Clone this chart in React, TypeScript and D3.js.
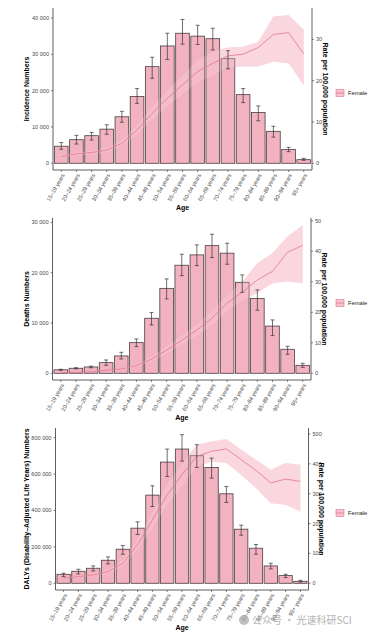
import React from "react";
import * as d3 from "d3";

// age groups (x axis)
const ageGroups = [
  "15–19 years", "20–24 years", "25–29 years", "30–34 years", "35–39 years",
  "40–44 years", "45–49 years", "50–54 years", "55–59 years", "60–64 years",
  "65–69 years", "70–74 years", "75–79 years", "80–84 years", "85–89 years",
  "90–94 years", "95+ years",
];

// incidence
const incidenceNumbers = [4700, 6500, 7600, 9400, 12800, 18400, 26600, 32300, 35800, 35000, 34300, 28800, 18900, 14000, 8800, 3800, 1000];
const incidenceLow = [3850, 5300, 6400, 8000, 11300, 16500, 23400, 28600, 32800, 32700, 31200, 26000, 16700, 11700, 7200, 3200, 830];
const incidenceHigh = [5700, 7700, 8500, 10600, 14300, 20600, 29200, 35800, 39600, 38000, 37200, 31000, 20600, 15800, 10200, 4400, 1380];
const incidenceRate = [1.6, 2.3, 2.6, 3.2, 4.8, 8.1, 12.1, 15.7, 19.0, 22.2, 24.2, 26.0, 26.4, 28.0, 31.2, 31.6, 26.5];
const incidenceRateLow = [1.3, 1.9, 2.2, 2.7, 4.1, 7.0, 10.6, 13.8, 16.7, 19.5, 21.3, 23.2, 23.4, 23.4, 24.6, 24.2, 18.9];
const incidenceRateHigh = [1.9, 2.7, 3.0, 3.7, 5.5, 9.2, 13.6, 17.6, 21.3, 24.9, 27.1, 28.0, 28.2, 29.4, 35.5, 35.9, 32.3];

// deaths
const deathNumbers = [700, 1000, 1260, 2120, 3450, 6100, 10950, 16900, 21500, 23560, 25400, 23900, 18100, 14900, 9400, 4780, 1590];
const deathLow = [600, 880, 1100, 1590, 2850, 5300, 9620, 14800, 19440, 21430, 23030, 21700, 16120, 12540, 7500, 3780, 1190];
const deathHigh = [800, 1120, 1420, 2650, 4180, 6830, 12080, 18780, 23690, 25550, 27670, 25880, 19580, 16590, 10620, 5380, 1990];
const deathRate = [0.2, 0.3, 0.5, 1.0, 1.4, 2.5, 4.6, 7.6, 10.8, 14.2, 18.1, 23.0, 26.6, 30.6, 33.4, 39.7, 41.9];
const deathRateLow = [0.15, 0.25, 0.4, 0.85, 1.2, 2.1, 3.9, 6.5, 9.4, 12.3, 15.6, 20.4, 23.8, 26.3, 29.5, 30.1, 29.5];
const deathRateHigh = [0.25, 0.35, 0.6, 1.15, 1.6, 2.9, 5.3, 8.8, 12.4, 16.1, 20.6, 25.4, 30.0, 36.1, 39.4, 44.9, 48.5];

// DALYs
const dalyNumbers = [49500, 66000, 82600, 126600, 187200, 302800, 484400, 666000, 737600, 700900, 636700, 491700, 297200, 192700, 95400, 42200, 11000];
const dalyLow = [36700, 51400, 67900, 106400, 159600, 267900, 422000, 587200, 671600, 636700, 578000, 444000, 264200, 159600, 78900, 31200, 7300];
const dalyHigh = [55000, 77000, 95400, 145000, 207300, 337600, 535800, 737600, 816500, 761500, 688000, 532000, 319300, 212800, 110100, 49500, 16500];
const dalyRate = [16.8, 22.4, 28, 39, 67, 129, 212, 296, 364, 425, 442, 450, 414, 378, 336, 349, 341];
const dalyRateLow = [14, 19, 24, 33, 57, 112, 186, 262, 325, 390, 408, 403, 363, 319, 268, 263, 240];
const dalyRateHigh = [19.5, 26, 32, 45, 77, 146, 238, 330, 400, 464, 475, 483, 447, 414, 380, 403, 397];

const incidenceTicks = [0, 10000, 20000, 30000, 40000];
const incidenceRateTicks = [0, 10, 20, 30];
const deathTicks = [0, 10000, 20000, 30000];
const deathRateTicks = [0, 10, 20, 30, 40, 50];
const dalyTicks = [0, 200000, 400000, 600000, 800000];
const dalyRateTicks = [0, 100, 200, 300, 400, 500];

const fmt = d3
  .formatLocale({ decimal: ".", thousands: " ", grouping: [3], currency: ["", ""] })
  .format(",");

const FONT = "'Liberation Sans', Arial, sans-serif";
const BAR_FILL = "#F3B2BF";
const LINE = "#E2768E";
const RIBBON = "#F8C4CF";
const AXIS = "#4d4d4d";
const TICK_TEXT = "#4d4d4d";

function Panel(props) {
  const {
    top, bottom, left, right, title,
    values, low, high, rate, rateLow, rateHigh,
    leftDomain, rightDomain, leftTicks, rightTicks,
  } = props;

  const x = d3.scaleBand().domain(ageGroups).range([left + 1, right - 1]).paddingInner(0.1).paddingOuter(0.03);
  const y = d3.scaleLinear().domain(leftDomain).range([bottom, top]);
  const y2 = d3.scaleLinear().domain(rightDomain).range([bottom, top]);
  const cx = (d) => x(d) + x.bandwidth() / 2;

  const area = d3.area()
    .x((d, i) => cx(ageGroups[i]))
    .y0((d, i) => y2(rateLow[i]))
    .y1((d, i) => y2(rateHigh[i]));
  const line = d3.line()
    .x((d, i) => cx(ageGroups[i]))
    .y((d) => y2(d));

  const midY = (top + bottom) / 2;
  const midX = (left + right) / 2;

  return (
    <g>
      {/* ribbon behind the bars, shows on white */}
      <path d={area(rate)} fill={RIBBON} opacity={0.75} />
      {/* bars */}
      {values.map((v, i) => (
        <rect key={"b" + i} x={x(ageGroups[i])} y={y(v)} width={x.bandwidth()} height={y(0) - y(v)}
          fill={BAR_FILL} stroke="#4a3f42" strokeWidth={0.8} />
      ))}
      {/* faint ribbon over the bars */}
      <path d={area(rate)} fill="#FBE0E6" opacity={0.25} />
      <path d={line(rate)} fill="none" stroke={LINE} strokeWidth={0.8} />
      {/* error bars */}
      {values.map((v, i) => {
        const c = cx(ageGroups[i]);
        return (
          <g key={"e" + i} stroke="#333" strokeWidth={0.7}>
            <line x1={c} x2={c} y1={y(low[i])} y2={y(high[i])} />
            <line x1={c - 2} x2={c + 2} y1={y(low[i])} y2={y(low[i])} />
            <line x1={c - 2} x2={c + 2} y1={y(high[i])} y2={y(high[i])} />
          </g>
        );
      })}

      {/* axes */}
      <g stroke={AXIS} strokeWidth={0.9} fill="none">
        <line x1={left} x2={left} y1={top} y2={bottom} />
        <line x1={right} x2={right} y1={top} y2={bottom} />
        <line x1={left} x2={right} y1={bottom} y2={bottom} />
      </g>
      {leftTicks.map((t) => (
        <g key={"l" + t}>
          <line x1={left - 2} x2={left} y1={y(t)} y2={y(t)} stroke={AXIS} strokeWidth={0.7} />
          <text x={left - 4} y={y(t)} dy="0.35em" textAnchor="end" fontSize={5.6} fill={TICK_TEXT} fontFamily={FONT}>
            {fmt(t)}
          </text>
        </g>
      ))}
      {rightTicks.map((t) => (
        <g key={"r" + t}>
          <line x1={right} x2={right + 2} y1={y2(t)} y2={y2(t)} stroke={AXIS} strokeWidth={0.7} />
          <text x={right + 4} y={y2(t)} dy="0.35em" textAnchor="start" fontSize={5.6} fill={TICK_TEXT} fontFamily={FONT}>
            {t}
          </text>
        </g>
      ))}
      {ageGroups.map((a) => (
        <g key={"x" + a}>
          <line x1={cx(a)} x2={cx(a)} y1={bottom} y2={bottom + 2} stroke={AXIS} strokeWidth={0.7} />
          <text transform={`translate(${cx(a) + 2},${bottom + 4}) rotate(-60)`} dy="0.35em" textAnchor="end"
            fontSize={5.6} fill={TICK_TEXT} fontFamily={FONT}>
            {a}
          </text>
        </g>
      ))}

      {/* titles */}
      <text x={midX} y={bottom + 40} textAnchor="middle" fontSize={7} fontWeight="bold" fontFamily={FONT}>Age</text>
      <text transform={`translate(27,${midY}) rotate(-90)`} textAnchor="middle" dy="0.35em" fontSize={7}
        fontWeight="bold" fontFamily={FONT}>{title}</text>
      <text transform={`translate(${right + 13},${midY}) rotate(90)`} textAnchor="middle" dy="0.35em" fontSize={7}
        fontWeight="bold" fontFamily={FONT}>Rate per 100,000 population</text>

      {/* legend */}
      <g transform={`translate(336,${midY + 4})`}>
        <rect x={0} y={-3.5} width={8} height={7} fill={RIBBON} stroke={LINE} strokeWidth={0.6} />
        <line x1={0} x2={8} y1={0} y2={0} stroke={LINE} strokeWidth={0.8} />
        <text x={12} y={0} dy="0.35em" fontSize={5.8} fill="#222" fontFamily={FONT}>Female</text>
      </g>
    </g>
  );
}

export default function App() {
  return (
    <svg width={373} height={635} style={{ position: "absolute", left: 0, top: 0, background: "#fff" }}>
      <rect width={373} height={635} fill="#fff" />
      <Panel top={8} bottom={170} left={53} right={312} title="Incidence Numbers"
        values={incidenceNumbers} low={incidenceLow} high={incidenceHigh}
        rate={incidenceRate} rateLow={incidenceRateLow} rateHigh={incidenceRateHigh}
        leftDomain={[-1844, 42750]} rightDomain={[-1.62, 37.58]}
        leftTicks={incidenceTicks} rightTicks={incidenceRateTicks} />
      <Panel top={218} bottom={380} left={52.5} right={311} title="Deaths Numbers"
        values={deathNumbers} low={deathLow} high={deathHigh}
        rate={deathRate} rateLow={deathRateLow} rateHigh={deathRateHigh}
        leftDomain={[-1334, 30900]} rightDomain={[-2.2, 50.9]}
        leftTicks={deathTicks} rightTicks={deathRateTicks} />
      <Panel top={428} bottom={590} left={55.5} right={308.5}
        title="DALYs (Disability–Adjusted Life Years) Numbers"
        values={dalyNumbers} low={dalyLow} high={dalyHigh}
        rate={dalyRate} rateLow={dalyRateLow} rateHigh={dalyRateHigh}
        leftDomain={[-36900, 853300]} rightDomain={[-22.5, 520]}
        leftTicks={dalyTicks} rightTicks={dalyRateTicks} />
      {/* watermark */}
      <g opacity={0.75}>
        <circle cx={244} cy={620} r={5} fill="#aaa" />
        <text x={252} y={620} dy="0.35em" fontSize={10} fill="#999" fontFamily="'Noto Sans CJK SC', sans-serif">
          公众号 · 光速科研SCI
        </text>
      </g>
    </svg>
  );
}
